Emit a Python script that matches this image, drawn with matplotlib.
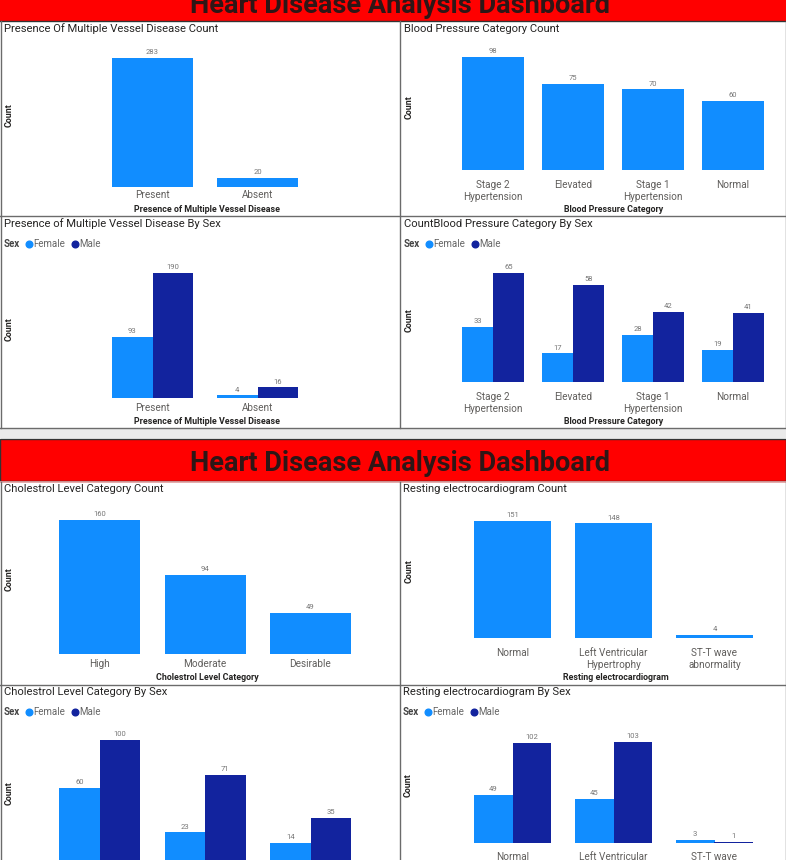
import matplotlib
matplotlib.use("Agg")
import matplotlib.pyplot as plt
import numpy as np
from matplotlib.patches import Rectangle
from matplotlib.lines import Line2D

plt.rcParams['font.family'] = ['Roboto', 'DejaVu Sans']

# ---- data ----
vessel_cats = ['Present', 'Absent']
vessel_count = [283, 20]
vessel_female = [93, 4]
vessel_male = [190, 16]

bp_cats = ['Stage 2\nHypertension', 'Elevated', 'Stage 1\nHypertension', 'Normal']
bp_count = [98, 75, 70, 60]
bp_female = [33, 17, 28, 19]
bp_male = [65, 58, 42, 41]

chol_cats = ['High', 'Moderate', 'Desirable']
chol_count = [160, 94, 49]
chol_female = [60, 23, 14]
chol_male = [100, 71, 35]

ecg_cats = ['Normal', 'Left Ventricular\nHypertrophy', 'ST-T wave\nabnormality']
ecg_count = [151, 148, 4]
ecg_female = [49, 45, 3]
ecg_male = [102, 103, 1]

FEMALE = '#118DFF'
MALE = '#12239E'
TITLE_C = '#252423'
TICK_C = '#605E5C'
FRAME_C = '#6b6b6b'

W, H = 786, 860
fig = plt.figure(figsize=(W / 100, H / 100), dpi=100)

# background layer in pixel coordinates
bg = fig.add_axes([0, 0, 1, 1])
bg.set_xlim(0, W)
bg.set_ylim(H, 0)
bg.axis('off')

# banners
bg.add_patch(Rectangle((0, -2), W, 22.5, fc='#FF0000', ec='none'))
bg.plot([0, W], [20.5, 20.5], color='#333333', lw=1)
bg.text(400, 13, 'Heart Disease Analysis Dashboard', ha='center', va='baseline',
        fontsize=19.5, fontweight='bold', color='#2e1616')

bg.add_patch(Rectangle((0, 428), W, 10, fc='#EAEAEA', ec='none'))
bg.add_patch(Rectangle((0, 438.5), W, 42, fc='#FF0000', ec='#333333', lw=1))
bg.plot([0, W], [481.5, 481.5], color='#e9a5a5', lw=1.2)
bg.text(400, 471, 'Heart Disease Analysis Dashboard', ha='center', va='baseline',
        fontsize=19.5, fontweight='bold', color='#2e1616')

# panel frames
for y0, y1 in [(21, 428), (482, 861)]:
    for x in [0.5, 400, 785.5]:
        bg.plot([x, x], [y0, y1], color=FRAME_C, lw=1)
bg.plot([0, W], [215.5, 215.5], color=FRAME_C, lw=1)
bg.plot([0, W], [427.5, 427.5], color=FRAME_C, lw=1)
bg.plot([0, W], [684.5, 684.5], color=FRAME_C, lw=1)


def panel_text(x, y, title, count_x, count_y, xlabel=None, xlabel_x=None, xlabel_y=None):
    bg.text(x, y, title, ha='left', va='center', fontsize=8.1, color=TITLE_C)
    bg.text(count_x, count_y, 'Count', ha='center', va='center', rotation=90,
            fontsize=6.4, fontweight='bold', color=TITLE_C)
    if xlabel:
        bg.text(xlabel_x, xlabel_y, xlabel, ha='center', va='center',
                fontsize=6.4, fontweight='bold', color=TITLE_C)


def make_ax(x_first, step, n, base, peak, peak_val, pad):
    top = peak - 25
    ax = fig.add_axes([(x_first - step / 2) / W, 1 - base / H,
                       step * n / W, (base - top) / H])
    ax.set_xlim(-0.5, n - 0.5)
    ax.set_ylim(0, peak_val * (base - top) / (base - peak))
    ax.patch.set_alpha(0)
    for s in ax.spines.values():
        s.set_visible(False)
    ax.set_yticks([])
    ax.tick_params(axis='x', length=0, pad=pad, labelsize=7.2, labelcolor=TICK_C)
    return ax


def single(ax, cats, vals, bar_frac):
    x = np.arange(len(cats))
    bars = ax.bar(x, vals, width=bar_frac, color=FEMALE)
    ax.bar_label(bars, padding=2, fontsize=5.5, color='#777777')
    ax.set_xticks(x, cats)
    for t in ax.get_xticklabels():
        t.set_linespacing(1.3)


def grouped(ax, cats, fem, male, group_frac):
    x = np.arange(len(cats))
    w = group_frac / 2
    b1 = ax.bar(x - w / 2, fem, w, color=FEMALE)
    b2 = ax.bar(x + w / 2, male, w, color=MALE)
    ax.bar_label(b1, padding=2, fontsize=5.5, color='#777777')
    ax.bar_label(b2, padding=2, fontsize=5.5, color='#777777')
    ax.set_xticks(x, cats)
    for t in ax.get_xticklabels():
        t.set_linespacing(1.3)


def sex_legend(x_left, y):
    bg.text(x_left, y, 'Sex', ha='left', va='center', fontsize=7,
            fontweight='bold', color='#444444')
    handles = [Line2D([], [], marker='o', ls='', color=FEMALE, markersize=4.8),
               Line2D([], [], marker='o', ls='', color=MALE, markersize=4.8)]
    fig.legend(handles, ['Female', 'Male'], loc='center left',
               bbox_to_anchor=((x_left + 20) / W, 1 - y / H),
               ncol=2, frameon=False, fontsize=7, handletextpad=0.0, columnspacing=0.45,
               borderpad=0, borderaxespad=0, handlelength=1.0, labelcolor='#666666')


# ---- top dashboard ----
panel_text(4, 29, 'Presence Of Multiple Vessel Disease Count', 9, 115,
           'Presence of Multiple Vessel Disease', 207, 210)
ax1 = make_ax(152.5, 105, 2, 187, 58, max(vessel_count), 2.2)
single(ax1, vessel_cats, vessel_count, 81 / 105)

panel_text(404, 29, 'Blood Pressure Category Count', 409, 107,
           'Blood Pressure Category', 614, 210)
ax2 = make_ax(493, 80, 4, 170, 57, max(bp_count), 7)
single(ax2, bp_cats, bp_count, 62 / 80)

panel_text(4, 224, 'Presence of Multiple Vessel Disease By Sex', 9, 329,
           'Presence of Multiple Vessel Disease', 207, 421)
sex_legend(4, 244)
ax3 = make_ax(152.5, 105, 2, 398, 273, max(vessel_male), 3.6)
grouped(ax3, vessel_cats, vessel_female, vessel_male, 81 / 105)

panel_text(404, 224, 'CountBlood Pressure Category By Sex', 409, 320,
           'Blood Pressure Category', 614, 421)
sex_legend(404, 244)
ax4 = make_ax(493, 80, 4, 382, 273, max(bp_male), 7)
grouped(ax4, bp_cats, bp_female, bp_male, 62 / 80)

# ---- bottom dashboard ----
panel_text(4, 489, 'Cholestrol Level Category Count', 9, 579,
           'Cholestrol Level Category', 207, 677)
ax5 = make_ax(99.5, 105.5, 3, 654, 520, max(chol_count), 3.6)
single(ax5, chol_cats, chol_count, 81 / 105.5)

panel_text(403, 489, 'Resting electrocardiogram Count', 409, 571,
           'Resting electrocardiogram', 616, 677)
ax6 = make_ax(512.5, 101, 3, 638, 521, max(ecg_count), 7)
single(ax6, ecg_cats, ecg_count, 77 / 101)

panel_text(4, 692, 'Cholestrol Level Category By Sex', 9, 793)
sex_legend(4, 712)
ax7 = make_ax(99.5, 105.5, 3, 860, 740, max(chol_male), 3.6)
grouped(ax7, chol_cats, chol_female, chol_male, 81 / 105.5)
ax7.tick_params(axis='x', labelbottom=False)  # axis labels fall below the crop

panel_text(403, 692, 'Resting electrocardiogram By Sex', 408, 785)
sex_legend(403, 712)
ax8 = make_ax(512.5, 101, 3, 843, 742, max(ecg_male), 6.5)
grouped(ax8, ecg_cats, ecg_female, ecg_male, 77 / 101)

fig.savefig('out.png', dpi=100)
